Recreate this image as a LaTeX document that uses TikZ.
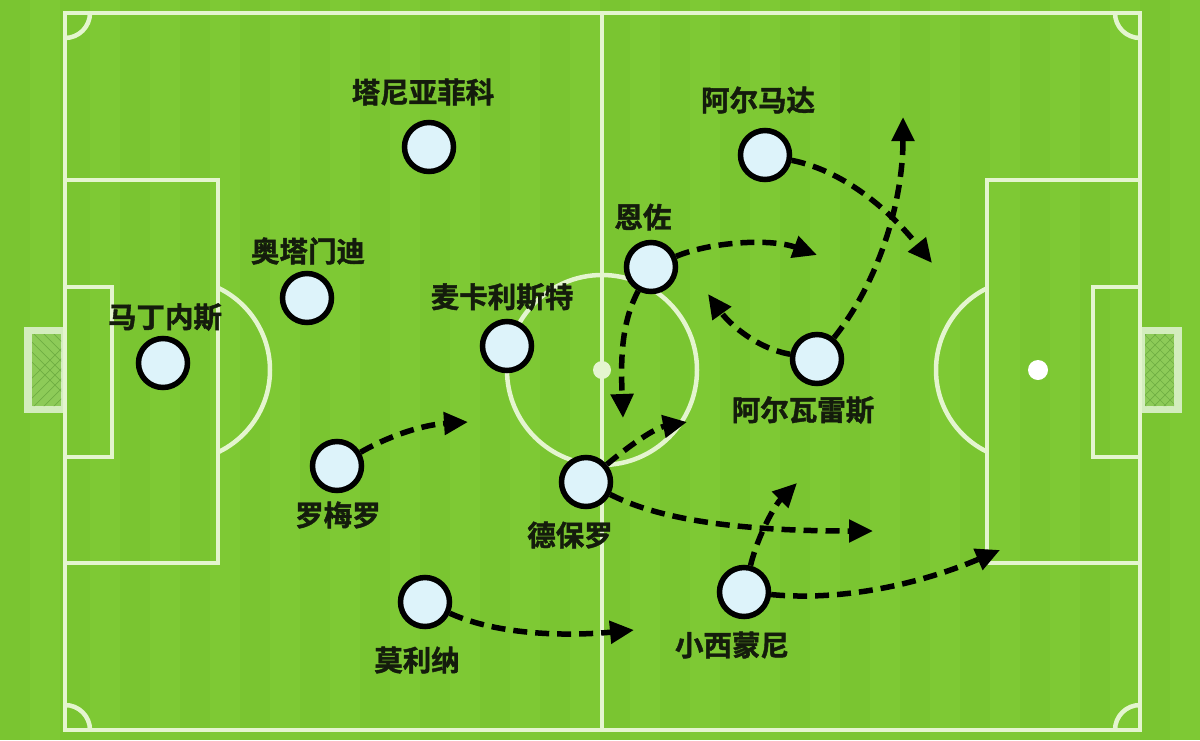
\documentclass[tikz,border=0pt]{standalone}
\usepackage{fontspec}
\newfontfamily\cjk{Noto Sans CJK SC}[BoldFont=* Bold, BoldFeatures={FakeBold=1.5}]
\usetikzlibrary{arrows.meta}
\definecolor{grass}{HTML}{7EC934}
\definecolor{grassdark}{HTML}{7AC531}
\definecolor{chalk}{HTML}{E4F5CF}
\definecolor{goalframe}{HTML}{D3EDBE}
\definecolor{netgreen}{HTML}{8DCB58}
\definecolor{netline}{HTML}{6FAE43}
\definecolor{shirt}{HTML}{DDF3FA}
\definecolor{ink}{HTML}{141C0C}
\tikzset{
  chalkline/.style={draw=chalk, line width=4.5pt},
  player/.style={circle, draw=black, line width=5.5pt, fill=shirt, minimum size=49pt, inner sep=0pt},
  plname/.style={font=\cjk\bfseries\fontsize{28.5}{31}\selectfont, text=ink, inner sep=0pt},
  run/.style={black, line width=5.5pt, dash pattern=on 14pt off 8pt, -{Triangle[length=24pt,width=22pt]}},
}
\begin{document}
\begin{tikzpicture}[x=1pt, y=-1pt]
            \useasboundingbox (0,0) rectangle (1200,740);
            % grass with faint stripes
            \fill[grass] (0,0) rectangle (1200,740);
            \foreach \s in {0,60,...,1140}
                \fill[grassdark] (\s,0) rectangle ({\s+30},740);
            % goals
            \fill[goalframe] (24,327) rectangle (65,413);
            \fill[goalframe] (1140,327) rectangle (1182,413);
            \fill[netgreen] (32,334) rectangle (61,406);
            \fill[netgreen] (1145,334) rectangle (1174,406);
            \begin{scope}
                \clip (32,334) rectangle (61,406) (1145,334) rectangle (1174,406);
                \foreach \k in {0,10,...,1200} {
                    \draw[netline, line width=0.7pt] (\k,330) -- ({\k+80},410);
                    \draw[netline, line width=0.7pt] (\k,410) -- ({\k+80},330);
                }
            \end{scope}
            % pitch markings
            \draw[chalkline] (65,13) rectangle (1140,730);
            \draw[chalkline] (602,13) -- (602,730);
            \draw[chalkline] (602,370) circle[radius=95];
            \fill[chalk] (602,370) circle[radius=9];
            \draw[chalkline] (65,180) rectangle (218,563);
            \draw[chalkline] (65,287) rectangle (112,457);
            \draw[chalkline] (987,180) rectangle (1140,563);
            \draw[chalkline] (1093,287) rectangle (1140,457);
            \fill[white] (1038,370) circle[radius=10];
            % penalty arcs and corner arcs
            \begin{scope}
                \clip (218,0) rectangle (400,740);
                \draw[chalkline] (179,370) circle[radius=91];
            \end{scope}
            \begin{scope}
                \clip (800,0) rectangle (987,740);
                \draw[chalkline] (1027,370) circle[radius=91];
            \end{scope}
            \begin{scope}
                \clip (65,13) rectangle (1140,730);
                \draw[chalkline] (65,13) circle[radius=25];
                \draw[chalkline] (1140,13) circle[radius=25];
                \draw[chalkline] (65,730) circle[radius=25];
                \draw[chalkline] (1140,730) circle[radius=25];
            \end{scope}
            % players
            \node[player] (mart) at (163,363) {};
            \node[player] (otam) at (307,298) {};
            \node[player] (tagl) at (429,147) {};
            \node[player] (macal) at (507,346) {};
            \node[player] (rome) at (337,466) {};
            \node[player] (moli) at (425,602) {};
            \node[player] (depaul) at (586,482) {};
            \node[player] (enzo) at (651,267) {};
            \node[player] (alma) at (765,155) {};
            \node[player] (alva) at (817,359) {};
            \node[player] (simeo) at (744,592) {};
            % names
            \node[plname] (martN) at (165,317) {马丁内斯};
            \node[plname] (otamN) at (308,251) {奥塔门迪};
            \node[plname] (taglN) at (423,92) {塔尼亚菲科};
            \node[plname] (macalN) at (502,297) {麦卡利斯特};
            \node[plname] (romeN) at (338,515) {罗梅罗};
            \node[plname] (moliN) at (417,660) {莫利纳};
            \node[plname] (depaulN) at (570,535) {德保罗};
            \node[plname] (enzoN) at (643,217) {恩佐};
            \node[plname] (almaN) at (758,100) {阿尔马达};
            \node[plname] (alvaN) at (803,410) {阿尔瓦雷斯};
            \node[plname] (simeoN) at (732,645) {小西蒙尼};
            % run targets
            \coordinate (romeT) at (468,422);
            \coordinate (moliT) at (634,630);
            \coordinate (depaulT) at (687,422);
            \coordinate (depaulW) at (873,531);
            \coordinate (enzoT) at (817,255);
            \coordinate (enzoD) at (623,418);
            \coordinate (alvaT) at (708,294);
            \coordinate (alvaU) at (903,117);
            \coordinate (almaT) at (932,263);
            \coordinate (simeoT) at (797,483);
            \coordinate (simeoW) at (1000,550);
            % runs
            \draw[run] (rome) .. controls (385,438) and (420,425) .. (romeT);
            \draw[run] (moli) .. controls (500,636) and (570,636) .. (moliT);
            \draw[run] (depaul) .. controls (630,445) and (655,428) .. (depaulT);
            \draw[run] (depaul) .. controls (660,520) and (740,531) .. (depaulW);
            \draw[run] (enzo) .. controls (710,242) and (770,238) .. (enzoT);
            \draw[run] (enzo) .. controls (620,325) and (621,365) .. (enzoD);
            \draw[run] (alva) .. controls (755,348) and (728,322) .. (alvaT);
            \draw[run] (alva) .. controls (880,280) and (903,200) .. (alvaU);
            \draw[run] (alma) .. controls (840,170) and (885,205) .. (almaT);
            \draw[run] (simeo) .. controls (758,535) and (775,505) .. (simeoT);
            \draw[run] (simeo) .. controls (850,602) and (930,580) .. (simeoW);
\end{tikzpicture}
\end{document}
